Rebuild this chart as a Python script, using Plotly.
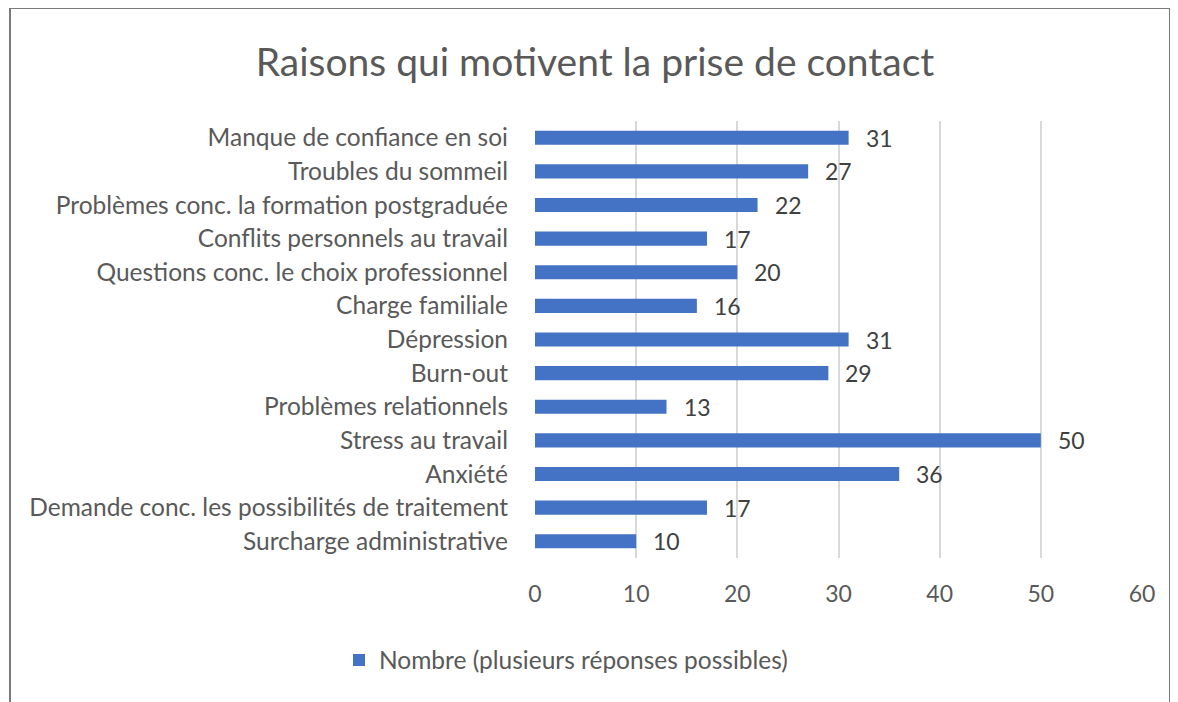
import plotly.graph_objects as go

categories = [
    "Manque de confiance en soi",
    "Troubles du sommeil",
    "Problèmes conc. la formation postgraduée",
    "Conflits personnels au travail",
    "Questions conc. le choix professionnel",
    "Charge familiale",
    "Dépression",
    "Burn-out",
    "Problèmes relationnels",
    "Stress au travail",
    "Anxiété",
    "Demande conc. les possibilités de traitement",
    "Surcharge administrative",
]
values = [31, 27, 22, 17, 20, 16, 31, 29, 13, 50, 36, 17, 10]
x_ticks = [0, 10, 20, 30, 40, 50, 60]
series_name = "Nombre (plusieurs réponses possibles)"
title = "Raisons qui motivent la prise de contact"

# page body has an 8px margin; compensate so target pixel positions match
OFF = 8
W, H = 1178, 702
PL, PR, PT, PB = 535, 1142, 121, 558  # target plot-area edges in window px
ML = PL - OFF
MT = PT - OFF
MR = (OFF + W) - PR
MB = (OFF + H) - PB
pw, ph = PR - PL, PB - PT

def px_x(p):
    return (p - PL) / pw

def px_y(p):
    return (PB - p) / ph

font_family = "Lato, Open Sans, sans-serif"
blue = "#4472C4"
fs_cat = 24.5
fs_num = 23

fig = go.Figure()
fig.add_trace(go.Bar(
    x=values, y=categories, orientation="h",
    marker=dict(color=blue, line=dict(width=0)),
    width=0.42, name=series_name, showlegend=True,
    hoverinfo="x+y",
))

for c, v in zip(categories, values):
    fig.add_annotation(x=v, y=c, text=str(v), showarrow=False,
                       xanchor="left", xshift=15,
                       font=dict(size=fs_num, color="#404040", family=font_family))

# chart frame (left, top, right)
frame = dict(color="#7a7a7a", width=2)
x0, x1 = px_x(10), px_x(1170)
y_top, y_bot = px_y(8), px_y(H + 10)
fig.add_shape(type="line", xref="paper", yref="paper", x0=x0, x1=x0, y0=y_bot, y1=y_top, line=frame)
fig.add_shape(type="line", xref="paper", yref="paper", x0=x0, x1=x1, y0=y_top, y1=y_top, line=frame)
fig.add_shape(type="line", xref="paper", yref="paper", x0=x1, x1=x1, y0=y_bot, y1=y_top, line=frame)

fig.update_layout(
    width=W, height=H,
    margin=dict(l=ML, r=MR, t=MT, b=MB, pad=0),
    paper_bgcolor="white", plot_bgcolor="white",
    font=dict(family=font_family, color="#595959", size=fs_cat),
    title=dict(text=title, x=(595 - OFF) / W, xref="container", xanchor="center",
               y=1 - (62 - OFF) / H, yanchor="middle",
               font=dict(size=39, color="#595959", family=font_family)),
    xaxis=dict(range=[0, 60], tickvals=x_ticks, showgrid=True,
               gridcolor="#d9d9d9", gridwidth=1.5, zeroline=False,
               showline=False, ticks="", ticklabelstandoff=20,
               tickfont=dict(size=fs_num, color="#595959"), fixedrange=True),
    yaxis=dict(autorange="reversed", showgrid=False, zeroline=False,
               showline=False, ticks="", ticklabelstandoff=26,
               tickfont=dict(size=fs_cat, color="#595959"), fixedrange=True),
    showlegend=True,
    legend=dict(orientation="h", x=px_x(566), xanchor="center",
                y=px_y(660), yanchor="middle",
                font=dict(size=fs_cat, color="#595959"),
                itemwidth=30),
)

fig.write_html("out.html")
